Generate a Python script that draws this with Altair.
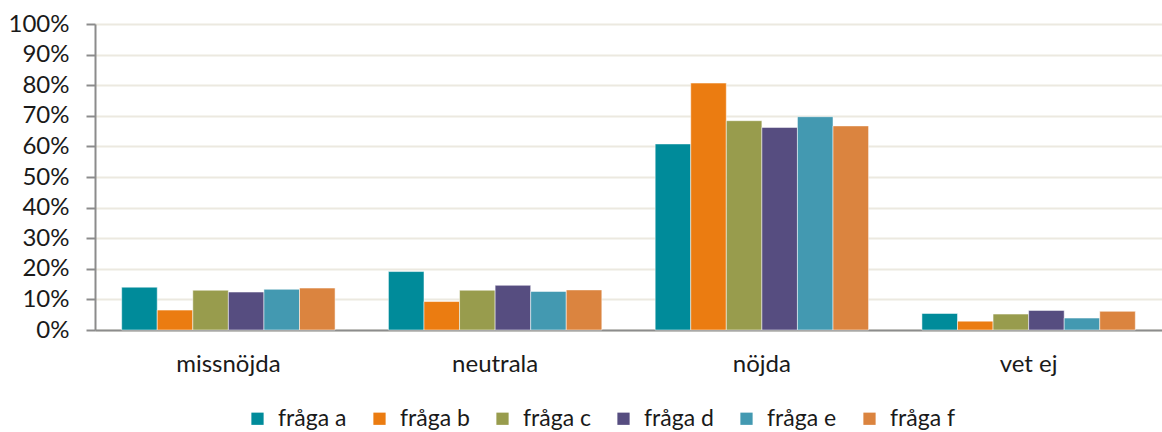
import altair as alt
import pandas as pd

# Answer categories and the share of respondents per question (percent)
categories = ["missnöjda", "neutrala", "nöjda", "vet ej"]
questions = ["fråga a", "fråga b", "fråga c", "fråga d", "fråga e", "fråga f"]
fraga_a = [14.0, 19.1, 60.8, 5.4]
fraga_b = [6.5, 9.3, 80.7, 2.9]
fraga_c = [13.0, 13.0, 68.4, 5.2]
fraga_d = [12.4, 14.6, 66.2, 6.4]
fraga_e = [13.3, 12.6, 69.7, 3.9]
fraga_f = [13.7, 13.1, 66.7, 6.1]
colors = ["#008B9A", "#EB7C11", "#989C4D", "#564D80", "#4399B1", "#DB843F"]

series = [fraga_a, fraga_b, fraga_c, fraga_d, fraga_e, fraga_f]
rows = []
for q, vals in zip(questions, series):
    for cat, v in zip(categories, vals):
        rows.append({"kategori": cat, "fråga": q, "andel": v / 100})
df = pd.DataFrame(rows)

FONT = "Lato"

chart = (
    alt.Chart(df)
    .mark_bar(stroke="white", strokeWidth=1, strokeOpacity=0.5)
    .encode(
        x=alt.X(
            "kategori:N",
            sort=categories,
            title=None,
            scale=alt.Scale(paddingInner=0.2, paddingOuter=0.1),
            axis=alt.Axis(
                labelAngle=0,
                ticks=False,
                domainColor="#8C8C8C",
                domainWidth=2,
                labelFontSize=24,
                labelPadding=22,
                labelColor="#1a1a1a",
                labelFont=FONT,
            ),
        ),
        xOffset=alt.XOffset("fråga:N", sort=questions, scale=alt.Scale(paddingInner=0, paddingOuter=0)),
        y=alt.Y(
            "andel:Q",
            title=None,
            scale=alt.Scale(domain=[0, 1], nice=False),
            axis=alt.Axis(
                format=".0%",
                values=[i / 10 for i in range(11)],
                tickSize=9,
                tickColor="#8C8C8C",
                tickWidth=2,
                domainColor="#8C8C8C",
                domainWidth=2,
                gridColor="#ECE9E0",
                gridWidth=2,
                labelFontSize=24,
                labelPadding=17,
                labelColor="#1a1a1a",
                labelFont=FONT,
            ),
        ),
        color=alt.Color(
            "fråga:N",
            sort=questions,
            scale=alt.Scale(domain=questions, range=colors),
            legend=alt.Legend(
                title=None,
                orient="none",
                direction="horizontal",
                legendX=151,
                legendY=383,
                symbolType="square",
                symbolSize=150,
                symbolStrokeWidth=0,
                labelFontSize=23,
                labelFont=FONT,
                labelColor="#1a1a1a",
                labelOffset=9,
                columnPadding=21,
                padding=0,
            ),
        ),
    )
    .properties(
        width=1067,
        height=306,
        autosize=alt.AutoSizeParams(type="none"),
        padding={"left": 95, "top": 24, "right": 0, "bottom": 102},
    )
    .configure_view(stroke=None)
    .configure(background="white")
)

chart.save("out.html", embed_options={"renderer": "svg", "actions": False})
